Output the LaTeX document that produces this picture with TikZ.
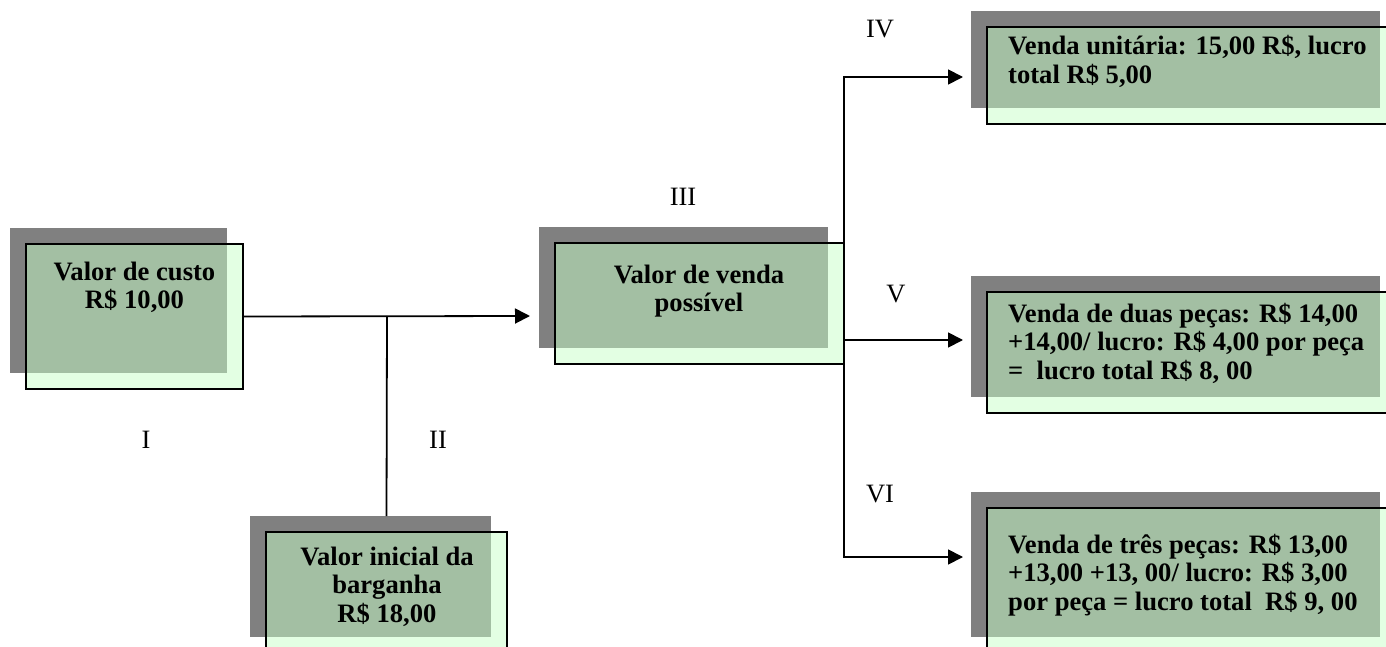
\documentclass[tikz,border=0pt]{standalone}
\usepackage{fontspec}
\setmainfont{Liberation Serif}
\usetikzlibrary{arrows.meta}
\definecolor{shgray}{HTML}{808080}
\definecolor{palegreen}{HTML}{E3FFE3}
\definecolor{midgreen}{HTML}{A3BFA3}
\newcommand\bxfont{\fontsize{26.6}{28.5}\selectfont\bfseries}
\newcommand\lbfont{\fontsize{26.5}{28.5}\selectfont}
\newcommand\mybox[5]{%
  \fill[shadowfill] (#2,#3) rectangle ++(#4,#5);
  \node[palebox, minimum width=#4pt, minimum height=#5pt, anchor=north west] (#1) at (#2+16,#3+16) {};
  \fill[overlapfill] (#2+16.9,#3+16.9) rectangle (#2+#4,#3+#5);
}
\tikzset{
  shadowfill/.style={fill=shgray},
  palebox/.style={draw=black, line width=1.8pt, fill=palegreen, inner sep=0pt, outer sep=0pt},
  overlapfill/.style={fill=midgreen},
  boxtext/.style={font=\bxfont, inner sep=0pt, anchor=base},
  boxtextl/.style={font=\bxfont, inner sep=0pt, anchor=base west},
  lbl/.style={font=\lbfont, inner sep=0pt, anchor=base},
  conn/.style={line width=1.8pt},
  arr/.style={conn, -{Triangle[length=15pt,width=15pt]}},
}
\begin{document}
\begin{tikzpicture}[x=1pt,y=-1pt]
\useasboundingbox (0,0) rectangle (1386,647);
\clip (0,0) rectangle (1386,647);
% boxes
\mybox{b1}{10}{228}{217}{145}
\mybox{b2}{250}{516}{241}{121}
\mybox{b3}{539}{227}{289}{121}
\mybox{b4}{971}{11}{409}{97}
\mybox{b5}{971}{276}{409}{121}
\mybox{b6}{971}{492}{409}{145}
% texts
\node[boxtext] (t1) at (134.5,280) {\begin{tabular}[t]{@{}c@{}}Valor de custo\\R\$ 10,00\end{tabular}};
\node[boxtext] (t2) at (387,565) {\begin{tabular}[t]{@{}c@{}}Valor inicial da\\barganha\\R\$ 18,00\end{tabular}};
\node[boxtext] (t3) at (699,283) {\begin{tabular}[t]{@{}c@{}}Valor de venda\\possível\end{tabular}};
\node[boxtextl] (t4) at (1008,55) {\begin{tabular}[t]{@{}l@{}}Venda unitária: 15,00 R\$, lucro\\total R\$ 5,00\end{tabular}};
\node[boxtextl] (t5) at (1008,322) {\begin{tabular}[t]{@{}l@{}}Venda de duas peças: R\$ 14,00\\+14,00/ lucro: R\$ 4,00 por peça\\=\ \ lucro total R\$ 8, 00\end{tabular}};
\node[boxtextl] (t6) at (1008,553) {\begin{tabular}[t]{@{}l@{}}Venda de três peças: R\$ 13,00\\+13,00 +13, 00/ lucro: R\$ 3,00\\por peça = lucro total\ \ R\$ 9, 00\end{tabular}};
% connectors
\coordinate (j1) at (387,316);
\coordinate (a3) at (530,316);
\coordinate (a4) at (963,77);
\coordinate (a5) at (963,340);
\coordinate (a6) at (963,557);
\draw[arr] (b1.east) -- (a3);
\draw[conn] (j1) -- ([yshift=16pt]b2.north);
\draw[arr] (b3.east) |- (a4);
\draw[arr] (b3.east) |- (a5);
\draw[arr] (b3.east) |- (a6);
% labels
\node[lbl] (l1) at (146,448) {I};
\node[lbl] (l2) at (438,448) {II};
\node[lbl] (l3) at (683,206) {III};
\node[lbl] (l4) at (880,38) {IV};
\node[lbl] (l5) at (896,302) {V};
\node[lbl] (l6) at (880,502) {VI};
\end{tikzpicture}
\end{document}
